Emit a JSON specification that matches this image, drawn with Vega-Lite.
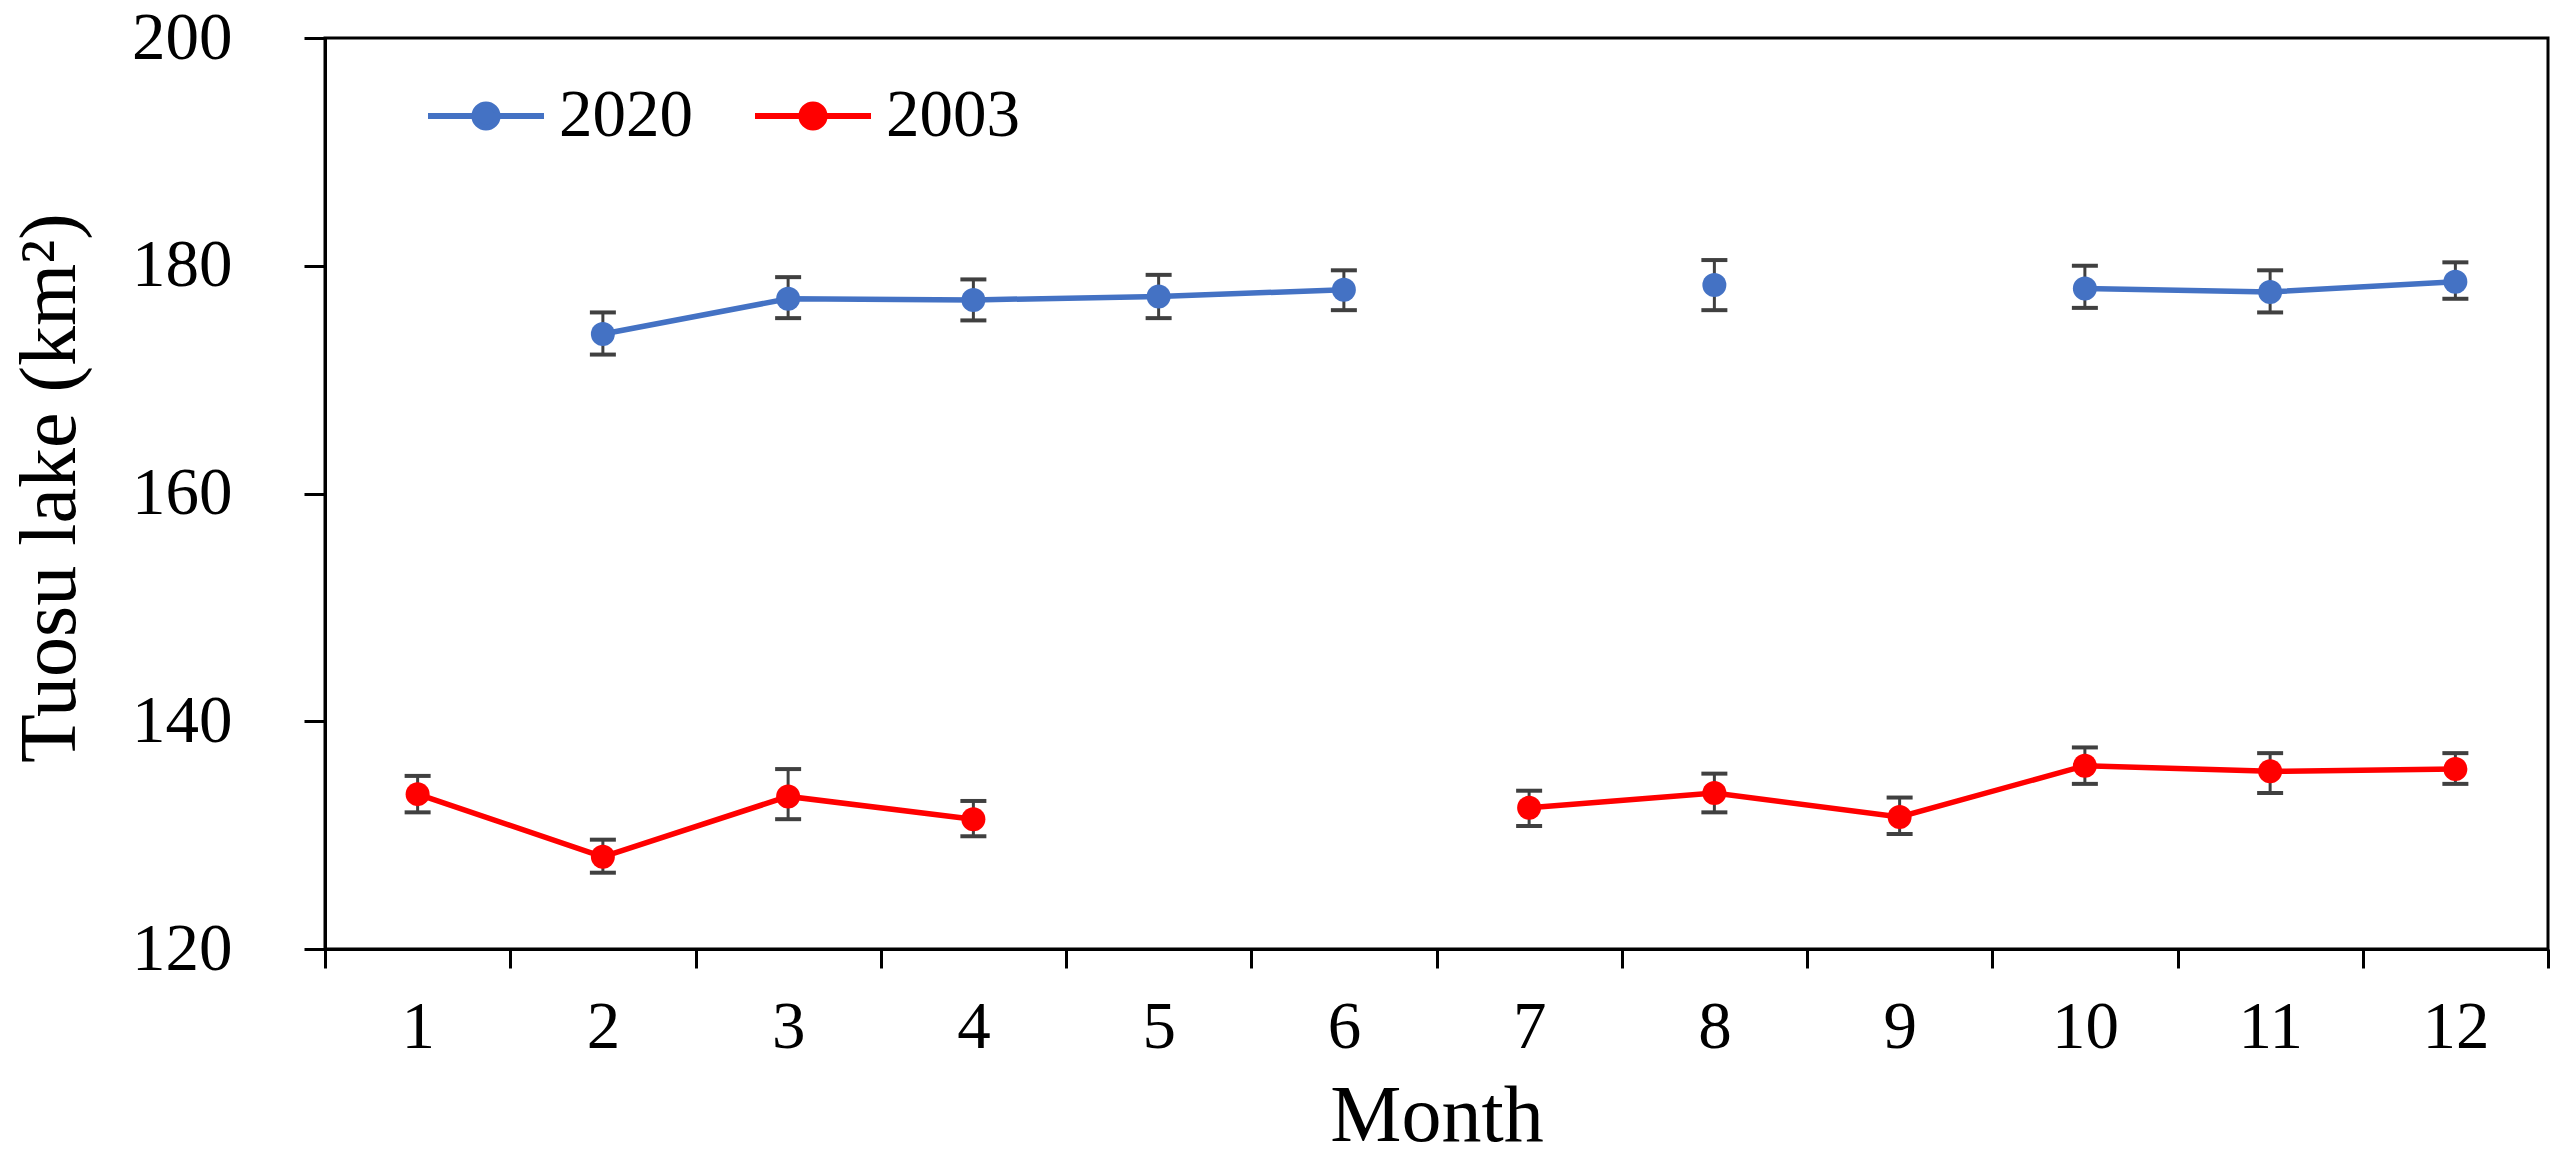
{
  "$schema": "https://vega.github.io/schema/vega-lite/v6.json",
  "width": 2223,
  "height": 911,
  "autosize": {"type": "none"},
  "padding": {"left": 325, "top": 38, "right": 20, "bottom": 209},
  "background": "white",
  "config": {
    "font": "Liberation Serif",
    "view": {"stroke": "black", "strokeWidth": 3},
    "axis": {
      "grid": false,
      "domainColor": "black",
      "domainWidth": 3,
      "tickColor": "black",
      "tickWidth": 3,
      "labelColor": "black",
      "titleColor": "black",
      "labelFont": "Liberation Serif",
      "titleFont": "Liberation Serif",
      "labelFontSize": 67,
      "titleFontSize": 80,
      "titleFontWeight": "normal"
    },
    "axisY": {
      "tickCount": 4,
      "tickSize": 21,
      "labelPadding": 72,
      "titleAngle": -90,
      "titleX": -251,
      "titleY": 449.5,
      "titleAlign": "center",
      "titleBaseline": "alphabetic"
    },
    "axisX": {
      "labelAngle": 0,
      "tickBand": "extent",
      "tickSize": 19,
      "labelPadding": 26,
      "titleBaseline": "alphabetic",
      "titleY": 191
    },
    "legend": {"padding": 0}
  },
  "data": {
    "values": [
      {"month": 2, "year": "2020", "area": 174.0, "lo": 172.2, "hi": 175.9},
      {"month": 3, "year": "2020", "area": 177.1, "lo": 175.4, "hi": 179.0},
      {"month": 4, "year": "2020", "area": 177.0, "lo": 175.2, "hi": 178.8},
      {"month": 5, "year": "2020", "area": 177.3, "lo": 175.4, "hi": 179.2},
      {"month": 6, "year": "2020", "area": 177.9, "lo": 176.1, "hi": 179.6},
      {"month": 7, "year": "2020", "area": null, "lo": null, "hi": null},
      {"month": 8, "year": "2020", "area": 178.3, "lo": 176.1, "hi": 180.5},
      {"month": 9, "year": "2020", "area": null, "lo": null, "hi": null},
      {"month": 10, "year": "2020", "area": 178.0, "lo": 176.3, "hi": 180.0},
      {"month": 11, "year": "2020", "area": 177.7, "lo": 175.9, "hi": 179.6},
      {"month": 12, "year": "2020", "area": 178.6, "lo": 177.1, "hi": 180.3},
      {"month": 1, "year": "2003", "area": 133.6, "lo": 132.0, "hi": 135.2},
      {"month": 2, "year": "2003", "area": 128.1, "lo": 126.7, "hi": 129.6},
      {"month": 3, "year": "2003", "area": 133.4, "lo": 131.4, "hi": 135.8},
      {"month": 4, "year": "2003", "area": 131.4, "lo": 129.9, "hi": 133.0},
      {"month": 5, "year": "2003", "area": null, "lo": null, "hi": null},
      {"month": 6, "year": "2003", "area": null, "lo": null, "hi": null},
      {"month": 7, "year": "2003", "area": 132.4, "lo": 130.8, "hi": 133.9},
      {"month": 8, "year": "2003", "area": 133.7, "lo": 132.0, "hi": 135.4},
      {"month": 9, "year": "2003", "area": 131.6, "lo": 130.1, "hi": 133.3},
      {"month": 10, "year": "2003", "area": 136.1, "lo": 134.5, "hi": 137.7},
      {"month": 11, "year": "2003", "area": 135.6, "lo": 133.7, "hi": 137.2},
      {"month": 12, "year": "2003", "area": 135.8, "lo": 134.5, "hi": 137.2}
    ]
  },
  "encoding": {
    "x": {
      "field": "month",
      "type": "ordinal",
      "bandPosition": 0.5,
      "title": "Month",
      "scale": {"type": "band", "paddingInner": 0, "paddingOuter": 0}
    }
  },
  "layer": [
    {
      "mark": {"type": "rule", "color": "#404040", "strokeWidth": 3},
      "encoding": {
        "y": {"field": "lo", "type": "quantitative", "title": "Tuosu lake (km²)", "scale": {"domain": [120, 200], "nice": false, "zero": false}},
        "y2": {"field": "hi"}
      }
    },
    {
      "mark": {"type": "tick", "color": "#404040", "size": 26, "thickness": 4, "orient": "horizontal", "opacity": 1},
      "encoding": {
        "y": {"field": "lo", "type": "quantitative", "title": "Tuosu lake (km²)", "scale": {"domain": [120, 200], "nice": false, "zero": false}}
      }
    },
    {
      "mark": {"type": "tick", "color": "#404040", "size": 26, "thickness": 4, "orient": "horizontal", "opacity": 1},
      "encoding": {
        "y": {"field": "hi", "type": "quantitative", "title": "Tuosu lake (km²)", "scale": {"domain": [120, 200], "nice": false, "zero": false}}
      }
    },
    {
      "mark": {"type": "line", "strokeWidth": 5.5, "invalid": "break-paths-filter-domains"},
      "encoding": {
        "y": {"field": "area", "type": "quantitative", "title": "Tuosu lake (km²)", "scale": {"domain": [120, 200], "nice": false, "zero": false}},
        "color": {
          "field": "year",
          "type": "nominal",
          "scale": {"domain": ["2020", "2003"], "range": ["#4472C4", "#FF0000"]},
          "legend": {
            "orient": "none",
            "legendX": 100,
            "legendY": 17,
            "direction": "horizontal",
            "title": null,
            "symbolType": "M-1,0L1,0M-0.2,0A0.2,0.2 0 1,0 0.2,0A0.2,0.2 0 1,0 -0.2,0Z",
            "symbolSize": 13456,
            "symbolStrokeWidth": 6,
            "labelFontSize": 67,
            "labelFont": "Liberation Serif",
            "labelColor": "black",
            "labelOffset": 12,
            "columnPadding": 50,
            "encode": {"symbols": {"update": {"fill": {"scale": "color", "field": "value"}, "stroke": {"scale": "color", "field": "value"}}}}
          }
        }
      }
    },
    {
      "mark": {"type": "point", "filled": true, "size": 576, "opacity": 1},
      "encoding": {
        "y": {"field": "area", "type": "quantitative", "title": "Tuosu lake (km²)", "scale": {"domain": [120, 200], "nice": false, "zero": false}},
        "color": {"field": "year", "type": "nominal", "legend": null}
      }
    }
  ]
}
